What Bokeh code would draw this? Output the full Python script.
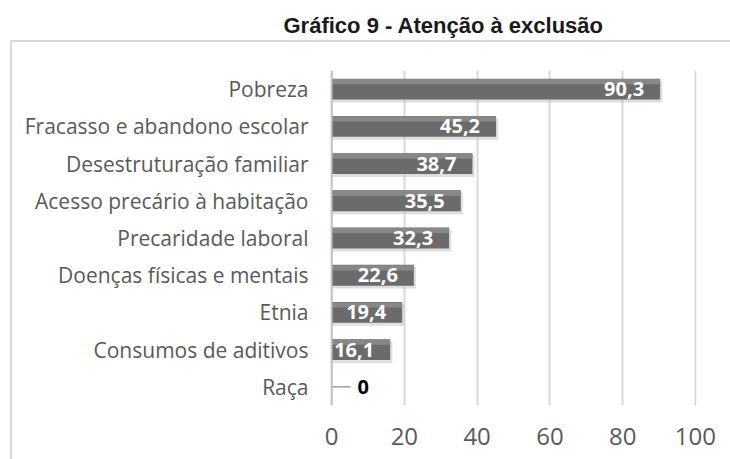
from bokeh.plotting import figure
from bokeh.models import FactorRange, Range1d, ColumnDataSource, Span, FixedTicker, Title
from bokeh.transform import dodge
from bokeh.core.properties import value
from bokeh.embed import file_html
from bokeh.resources import INLINE

title_text = "Gráfico 9 - Atenção à exclusão"
categories = ["Pobreza", "Fracasso e abandono escolar", "Desestruturação familiar",
              "Acesso precário à habitação", "Precaridade laboral",
              "Doenças físicas e mentais", "Etnia", "Consumos de aditivos", "Raça"]
values = [90.3, 45.2, 38.7, 35.5, 32.3, 22.6, 19.4, 16.1, 0]
x_ticks = [0, 20, 40, 60, 80, 100]

def fmt(v):
    return "0" if v == 0 else ("%.1f" % v).replace(".", ",")

pos = [(c, v, fmt(v)) for c, v in zip(categories, values) if v > 0]
zero = [(c, v, fmt(v)) for c, v in zip(categories, values) if v == 0]

src = ColumnDataSource(dict(cat=categories, val=values,
                            shadow=[v + 0.6 if v > 0 else 0 for v in values]))
src_pos = ColumnDataSource(dict(cat=[p[0] for p in pos], val=[p[1] for p in pos], lab=[p[2] for p in pos]))
src_zero = ColumnDataSource(dict(cat=[z[0] for z in zero], val=[z[1] for z in zero],
                                 lab=[z[2] for z in zero], end=[z[1] + 5.2 for z in zero]))

p = figure(width=730, height=459, output_backend="svg", toolbar_location=None, title=None,
           y_range=FactorRange(factors=list(reversed(categories))),
           x_range=Range1d(-0.3, 100.3),
           min_border_left=330, min_border_right=34, min_border_top=70, min_border_bottom=54)

p.add_layout(Title(text=title_text, text_font="Liberation Sans", text_font_style="bold",
                   text_font_size="22px", text_color="#1a1a1a", align="left", offset=-47,
                   vertical_align="bottom", standoff=0,
                   padding=dict(left=0, right=0, top=0, bottom=33)), "above")

p.border_fill_color = None
p.background_fill_color = None
p.styles = {
    "background": "linear-gradient(#d9d9d9,#d9d9d9) 10px 40px / 720px 2px no-repeat, "
                  "linear-gradient(#d9d9d9,#d9d9d9) 10px 40px / 2px 419px no-repeat, white"
}

p.outline_line_color = None
p.ygrid.grid_line_color = None
p.xgrid.grid_line_color = "#d9d9d9"
p.xgrid.grid_line_width = 2
p.xaxis.ticker = FixedTicker(ticks=x_ticks)

for ax in (p.xaxis, p.yaxis):
    ax.axis_line_color = None
    ax.major_tick_line_color = None
    ax.minor_tick_line_color = None
    ax.major_tick_out = 0
    ax.major_tick_in = 0
    ax.major_label_text_font = "Open Sans"
    ax.major_label_text_color = "#595959"
p.xaxis.major_label_text_font_size = "24px"
p.xaxis.major_label_standoff = 22
p.yaxis.major_label_text_font_size = "21px"
p.yaxis.major_label_standoff = 22

# shadows
p.hbar(y=dodge("cat", -0.07, range=p.y_range), left=0, right="shadow", height=0.58,
       source=src, fill_color="#c4c4c4", fill_alpha=0.55, line_color=None)
# bars
p.hbar(y="cat", left=0, right="val", height=0.56, source=src,
       fill_color="#6b6b6b", line_color=None)
p.hbar(y=dodge("cat", 0.2, range=p.y_range), left=0, right="val", height=0.14, source=src,
       fill_color="#888888", line_color=None)

p.add_layout(Span(location=0, dimension="height", line_color="#bfbfbf", line_width=2))

p.text(x="val", y="cat", text="lab", source=src_pos, text_align="right", text_baseline="middle",
       x_offset=-16, text_color="white", text_font=value("Open Sans"), text_font_style="bold",
       text_font_size="20px")
p.segment(x0="val", x1="end", y0="cat", y1="cat", source=src_zero, line_color="#8c8c8c", line_width=1.2)
p.text(x="val", y="cat", text="lab", source=src_zero, text_align="left", text_baseline="middle",
       x_offset=26, text_color="black", text_font=value("Open Sans"), text_font_style="bold",
       text_font_size="20px")

open("out.html", "w").write(file_html(p, INLINE))
